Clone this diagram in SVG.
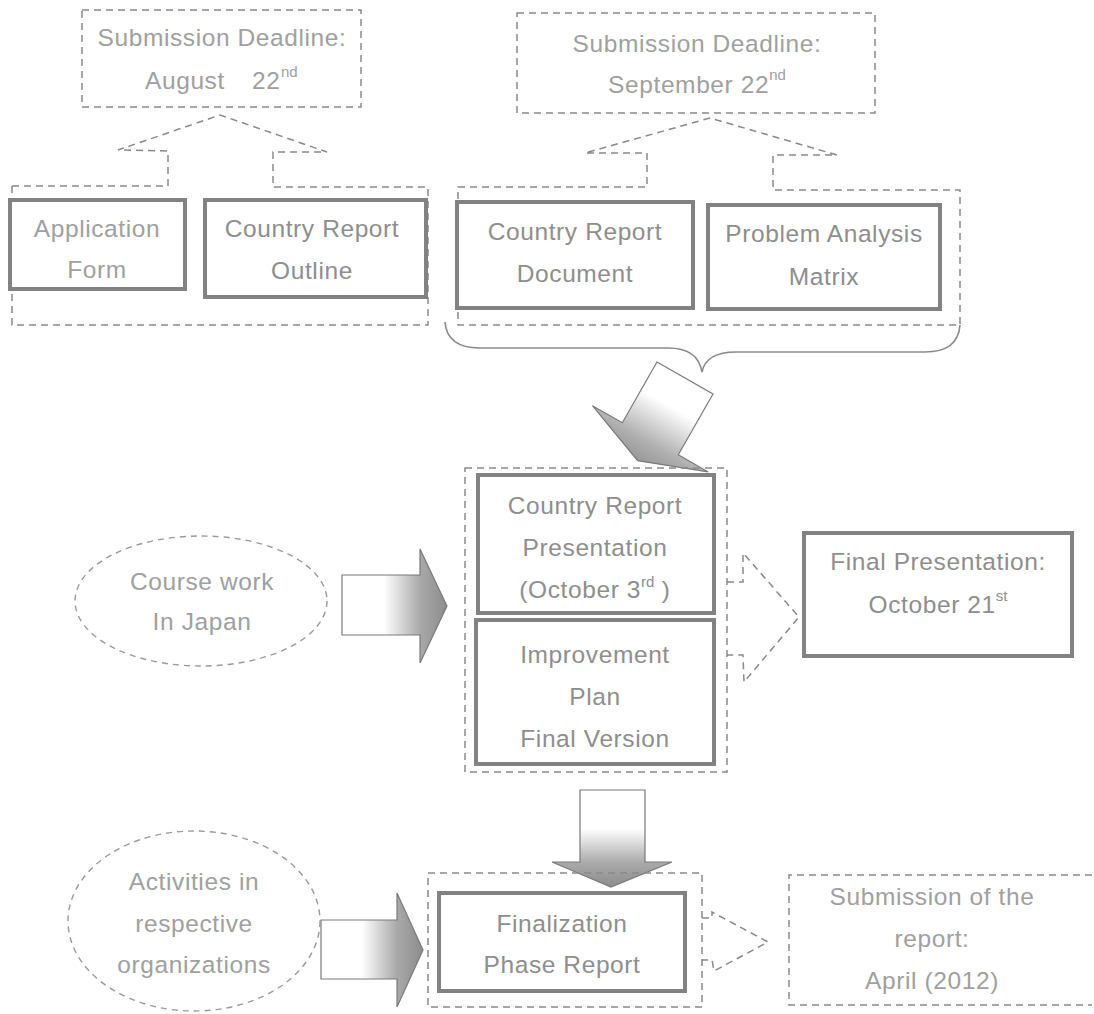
<svg xmlns="http://www.w3.org/2000/svg" width="1094" height="1014" viewBox="0 0 1094 1014">
<style>
  .t { font-family: "Liberation Sans", Arial, sans-serif; font-size: 24.5px; letter-spacing: 0.6px; fill: #8e8e8e; text-anchor: middle; }
  .tl { fill: #a0a0a0; }
  .sup { font-size: 15px; letter-spacing: 0; }
  .dash { fill: none; stroke: #8a8a8a; stroke-width: 1.5; stroke-dasharray: 7 5; }
  .dashl { fill: none; stroke: #9a9a9a; stroke-width: 1.4; stroke-dasharray: 6 5; }
  .box { fill: #fff; stroke: #828282; stroke-width: 4; }
  .blk { stroke: #7a7a7a; stroke-width: 1.2; stroke-linejoin: miter; }
  .brace { fill: none; stroke: #8a8a8a; stroke-width: 1.6; }
</style>
<defs>
  <linearGradient id="gH" x1="0" y1="0" x2="1" y2="0">
    <stop offset="0" stop-color="#ffffff"/>
    <stop offset="0.4" stop-color="#ffffff"/>
    <stop offset="0.75" stop-color="#a8a8a8"/>
    <stop offset="1" stop-color="#8c8c8c"/>
  </linearGradient>
  <linearGradient id="gV" x1="0" y1="0" x2="0" y2="1">
    <stop offset="0" stop-color="#ffffff"/>
    <stop offset="0.4" stop-color="#ffffff"/>
    <stop offset="0.75" stop-color="#aaaaaa"/>
    <stop offset="1" stop-color="#8c8c8c"/>
  </linearGradient>
  <linearGradient id="gD" gradientUnits="userSpaceOnUse" x1="685" y1="378" x2="632" y2="470">
    <stop offset="0" stop-color="#ffffff"/>
    <stop offset="0.3" stop-color="#ffffff"/>
    <stop offset="0.7" stop-color="#b0b0b0"/>
    <stop offset="1" stop-color="#8c8c8c"/>
  </linearGradient>
</defs>

<g id="connectors">
  <path class="dash" d="M12,186 L168,186 L168,151 L118,150 L220,115 L327,152 L273,152 L273,187 L428,187 L428,325 L12,325 Z"/>
  <path class="dash" d="M458,187 L647,187 L647,153 L585,153 L710,118 L837,155 L773,155 L773,190 L960,190 L960,325 L458,325 Z"/>
  <path class="brace" d="M445,322 Q447,348 480,348 L668,348 Q698,348 702,372 Q706,352 736,352 L925,352 Q958,352 960,325"/>
  <path class="blk" fill="url(#gD)" d="M657,362 L713,394 L678.3,454.8 L708.2,471.9 L637.6,460.7 L592.4,405.7 L622.3,422.8 Z"/>
  <path class="blk" fill="url(#gH)" d="M342,575 L420,575 L420,549 L447,606 L420,663 L420,635 L342,635 Z"/>
  <path class="dash" d="M727,582 L743,582 L743,553 L799,617 L744,682 L743,655 L727,655"/>
  <path class="blk" fill="url(#gV)" d="M580,790 L645,790 L645,862 L672,862 L611,887 L552,862 L580,862 Z"/>
  <path class="blk" fill="url(#gH)" d="M321,920 L397,920 L397,893 L423,950 L397,1007 L397,979 L321,979 Z"/>
  <path class="dash" d="M702,918 L712,918 L712,912 L768,942 L714,971 L712,960 L702,960"/>
</g>

<g id="deadline-august">
  <rect class="dash" x="82" y="10" width="279" height="97"/>
  <text class="t tl" x="222" y="46">Submission Deadline:</text>
  <text class="t tl" style="text-anchor:start" y="89"><tspan x="145">August</tspan><tspan x="252">22</tspan><tspan class="sup" x="281" y="77">nd</tspan></text>
</g>

<g id="application-form">
  <rect class="box" x="10" y="200" width="175" height="89"/>
  <text class="t tl" x="97" y="237">Application</text>
  <text class="t tl" x="97" y="278">Form</text>
</g>

<g id="country-report-outline">
  <rect class="box" x="205" y="200" width="221" height="97"/>
  <text class="t" x="312" y="237">Country Report</text>
  <text class="t" x="312" y="279">Outline</text>
</g>

<g id="deadline-september">
  <rect class="dash" x="517" y="13" width="358" height="100"/>
  <text class="t tl" x="697" y="52">Submission Deadline:</text>
  <text class="t tl" x="697" y="93">September 22<tspan class="sup" dy="-13">nd</tspan></text>
</g>

<g id="country-report-document">
  <rect class="box" x="457" y="202" width="236" height="106"/>
  <text class="t" x="575" y="240">Country Report</text>
  <text class="t" x="575" y="282">Document</text>
</g>

<g id="problem-analysis-matrix">
  <rect class="box" x="708" y="205" width="232" height="104"/>
  <text class="t" x="824" y="242">Problem Analysis</text>
  <text class="t" x="824" y="285">Matrix</text>
</g>

<g id="course-work">
  <ellipse class="dashl" cx="201" cy="601" rx="126" ry="65"/>
  <text class="t tl" x="202" y="590">Course work</text>
  <text class="t tl" x="202" y="630">In Japan</text>
</g>

<g id="japan-phase">
  <rect class="dash" x="465" y="468" width="262" height="304"/>
</g>

<g id="country-report-presentation">
  <rect class="box" x="478" y="475" width="236" height="138"/>
  <text class="t" x="595" y="514">Country Report</text>
  <text class="t" x="595" y="556">Presentation</text>
  <text class="t" x="595" y="598">(October 3<tspan class="sup" dy="-11">rd</tspan><tspan dy="11"> )</tspan></text>
</g>

<g id="improvement-plan">
  <rect class="box" x="476" y="620" width="238" height="144"/>
  <text class="t" x="595" y="663">Improvement</text>
  <text class="t" x="595" y="705">Plan</text>
  <text class="t" x="595" y="747">Final Version</text>
</g>

<g id="final-presentation">
  <rect class="box" x="804" y="533" width="268" height="123"/>
  <text class="t" x="938" y="570">Final Presentation:</text>
  <text class="t" x="938" y="613">October 21<tspan class="sup" dy="-12">st</tspan></text>
</g>

<g id="activities">
  <ellipse class="dashl" cx="194" cy="921" rx="126" ry="90"/>
  <text class="t tl" x="194" y="890">Activities in</text>
  <text class="t tl" x="194" y="932">respective</text>
  <text class="t tl" x="194" y="973">organizations</text>
</g>

<g id="finalization-phase">
  <rect class="dash" x="428" y="873" width="274" height="134"/>
</g>

<g id="finalization-phase-report">
  <rect class="box" x="439" y="893" width="246" height="98"/>
  <text class="t" x="562" y="932">Finalization</text>
  <text class="t" x="562" y="973">Phase Report</text>
</g>

<g id="submission-report">
  <path class="dash" d="M1092,875 L789,875 L789,1005 L1092,1005"/>
  <text class="t tl" x="932" y="905">Submission of the</text>
  <text class="t tl" x="932" y="989">April (2012)</text>
  <text class="t tl" x="932" y="947">report:</text>
</g>
</svg>
